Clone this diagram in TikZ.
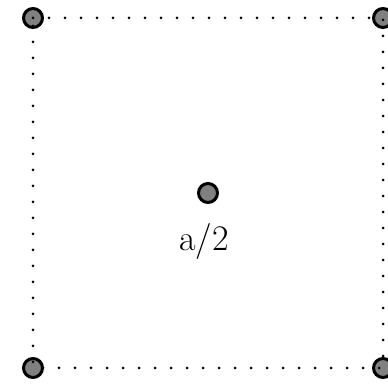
\documentclass[tikz,border=0pt]{standalone}
\begin{document}
\begin{tikzpicture}[x=1pt,y=1pt,
  pt/.style={circle,draw=black,fill=gray,line width=3pt,minimum size=19pt,inner sep=0pt},
  dotline/.style={line width=3pt,line cap=round,dash pattern=on 0pt off 16pt}]
\useasboundingbox (0,0) rectangle (388,385);
\node[pt] (tl) at (33,367) {};
\node[pt] (tr) at (383,367) {};
\node[pt] (br) at (383,17) {};
\node[pt] (bl) at (33,17) {};
\node[pt] (c) at (208,192) {};
\node[anchor=base,font=\fontsize{36}{40}\selectfont,inner sep=0pt] (lbl) at (204,134) {a/2};
\draw[dotline] (tl.center) -- (tr.center) -- (br.center) -- (bl.center) -- (tl.center);
\end{tikzpicture}
\end{document}
